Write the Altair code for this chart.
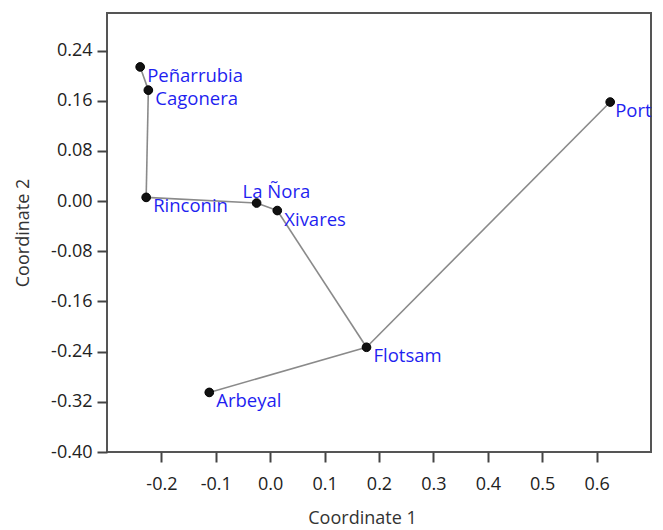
import altair as alt
import pandas as pd

names = ["Peñarrubia", "Cagonera", "Rinconin", "La Ñora", "Xivares", "Flotsam", "Arbeyal", "Port"]
coord1 = [-0.239, -0.224, -0.228, -0.025, 0.013, 0.177, -0.112, 0.625]
coord2 = [0.214, 0.177, 0.006, -0.003, -0.015, -0.233, -0.305, 0.158]

edge_from = ["Peñarrubia", "Cagonera", "Rinconin", "La Ñora", "Xivares", "Flotsam", "Flotsam"]
edge_to = ["Cagonera", "Rinconin", "La Ñora", "Xivares", "Flotsam", "Port", "Arbeyal"]

x_ticks = [-0.2, -0.1, 0.0, 0.1, 0.2, 0.3, 0.4, 0.5, 0.6]
y_ticks = [-0.40, -0.32, -0.24, -0.16, -0.08, 0.0, 0.08, 0.16, 0.24]

pts = pd.DataFrame({"name": names, "c1": coord1, "c2": coord2})
lookup = {n: (a, b) for n, a, b in zip(names, coord1, coord2)}
edges = pd.DataFrame({
    "x": [lookup[a][0] for a in edge_from],
    "y": [lookup[a][1] for a in edge_from],
    "x2": [lookup[b][0] for b in edge_to],
    "y2": [lookup[b][1] for b in edge_to],
})

FONT = "Open Sans"
BLUE = "#1f1ff0"
xs = alt.Scale(domain=[-0.3, 0.7], nice=False, zero=False)
ys = alt.Scale(domain=[-0.40, 0.30], nice=False, zero=False)

xax = alt.Axis(values=x_ticks,
               labelExpr="datum.value < -0.0001 ? '-' + format(-datum.value, '.1f') : format(abs(datum.value), '.1f')",
               title="Coordinate 1", grid=False, tickSize=10, labelPadding=13,
               titlePadding=16, titleX=255, domain=False)
yax = alt.Axis(values=y_ticks,
               labelExpr="datum.value < -0.0001 ? '-' + format(-datum.value, '.2f') : format(abs(datum.value), '.2f')",
               title="Coordinate 2", grid=False, tickSize=10, labelPadding=5,
               titlePadding=18, domain=False)

enc = dict(x=alt.X("c1:Q", scale=xs), y=alt.Y("c2:Q", scale=ys), text="name:N")

lines = alt.Chart(edges).mark_rule(color="#8a8a8a", strokeWidth=1.6).encode(
    x=alt.X("x:Q", scale=xs, axis=xax),
    y=alt.Y("y:Q", scale=ys, axis=yax),
    x2="x2:Q", y2="y2:Q",
)

points = alt.Chart(pts).mark_circle(color="#111111", opacity=1, size=75,
                                     stroke="#000000", strokeWidth=1).encode(
    x=alt.X("c1:Q", scale=xs), y=alt.Y("c2:Q", scale=ys)
)

labels = alt.Chart(pts).transform_filter(
    (alt.datum.name != "La Ñora") & (alt.datum.name != "Port")
).mark_text(
    align="left", baseline="middle", dx=7, dy=9, color=BLUE, font=FONT, fontSize=18.5
).encode(**enc)

label_nora = alt.Chart(pts).transform_filter(alt.datum.name == "La Ñora").mark_text(
    align="left", baseline="middle", dx=-14, dy=-11, color=BLUE, font=FONT, fontSize=18.5
).encode(**enc)

label_port = alt.Chart(pts).transform_filter(alt.datum.name == "Port").mark_text(
    align="left", baseline="middle", dx=5, dy=9, color=BLUE, font=FONT, fontSize=18.5
).encode(**enc)

chart = alt.layer(lines, points, labels, label_nora, label_port).properties(
    width=544, height=439,
    background="white",
    autosize=alt.AutoSizeParams(type="none"),
    padding={"left": 99, "top": 5, "right": 4, "bottom": 78},
).configure_view(stroke="#555555", strokeWidth=2).configure_axis(
    labelFont=FONT, titleFont=FONT, labelFontSize=18, titleFontSize=18,
    labelColor="#222222", titleColor="#333333", titleFontWeight="normal",
    tickColor="#444444", tickWidth=2
)

chart.save("out.html", embed_options={"renderer": "svg", "actions": False})
